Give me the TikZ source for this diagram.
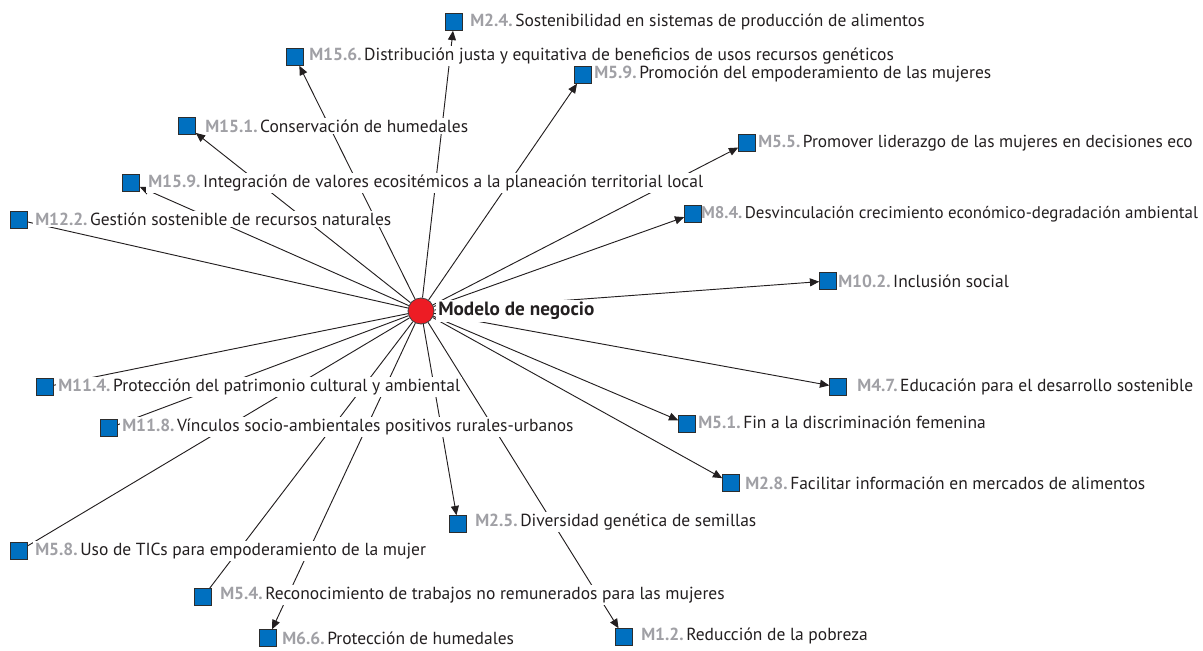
\documentclass[tikz,border=0pt]{standalone}
\usepackage{fontspec}
\setmainfont{PT Sans}
\usetikzlibrary{arrows.meta,backgrounds}
\definecolor{sqblue}{RGB}{0,112,192}
\definecolor{sqborder}{RGB}{45,45,45}
\definecolor{codegray}{RGB}{160,160,165}
\definecolor{txt}{RGB}{35,31,32}
\definecolor{hubred}{RGB}{237,28,36}
\newcommand{\lab}[2]{\textcolor{codegray}{\bfseries #1}\hspace{0.15em}#2}
\begin{document}
\begin{tikzpicture}[x=0.75pt,y=-0.75pt,
  sq/.style={draw=sqborder, line width=0.6pt, fill=sqblue, minimum size=12.5pt, inner sep=0pt},
  hub/.style={circle, draw=black!75, fill=hubred, minimum size=19.5pt, inner sep=0pt, line width=0.6pt},
  lbl/.style={fill=white, inner sep=1.5pt, text=txt, font=\fontsize{13.1}{15}\selectfont, anchor=west},
  edge/.style={draw=txt, line width=0.7pt},
  arr/.style={edge, -{Triangle[length=7pt,width=6pt]}}]
\useasboundingbox (0,0) rectangle (1203,650);
% hub
\node[hub] (hub) at (421,311) {};
\node[lbl, font=\fontsize{14.4}{16}\selectfont\bfseries] (hubl) at (436,311) {Modelo de negocio};
% labels
\node[lbl] (l24) at (468,22) {\lab{M2.4.}{Sostenibilidad en sistemas de producción de alimentos}};
\node[lbl] (l156) at (307,56) {\lab{M15.6.}{Distribución justa y equitativa de beneficios de usos recursos genéticos}};
\node[lbl] (l59) at (592,74) {\lab{M5.9.}{Promoción del empoderamiento de las mujeres}};
\node[lbl] (l151) at (203,126) {\lab{M15.1.}{Conservación de humedales}};
\node[lbl, font=\fontsize{13.0}{15}\selectfont] (l55) at (756,143) {\lab{M5.5.}{Promover liderazgo de las mujeres en decisiones eco}};
\node[lbl] (l159) at (146,183) {\lab{M15.9.}{Integración de valores ecositémicos a la planeación territorial local}};
\node[lbl] (l122) at (33,219) {\lab{M12.2.}{Gestión sostenible de recursos naturales}};
\node[lbl, font=\fontsize{12.7}{15}\selectfont] (l84) at (699,214) {\lab{M8.4.}{Desvinculación crecimiento económico-degradación ambiental}};
\node[lbl] (l102) at (836,281) {\lab{M10.2.}{Inclusión social}};
\node[lbl] (l114) at (56,387) {\lab{M11.4.}{Protección del patrimonio cultural y ambiental}};
\node[lbl] (l47) at (855,387) {\lab{M4.7.}{Educación para el desarrollo sostenible}};
\node[lbl] (l51) at (696,422) {\lab{M5.1.}{Fin a la discriminación femenina}};
\node[lbl] (l118) at (120,427) {\lab{M11.8.}{Vínculos socio-ambientales positivos rurales-urbanos}};
\node[lbl] (l28) at (743,483) {\lab{M2.8.}{Facilitar información en mercados de alimentos}};
\node[lbl] (l25) at (473,522) {\lab{M2.5.}{Diversidad genética de semillas}};
\node[lbl] (l58) at (33,551) {\lab{M5.8.}{Uso de TICs para empoderamiento de la mujer}};
\node[lbl] (l54) at (218,595) {\lab{M5.4.}{Reconocimiento de trabajos no remunerados para las mujeres}};
\node[lbl] (l66) at (280,638) {\lab{M6.6.}{Protección de humedales}};
\node[lbl] (l12) at (639,636) {\lab{M1.2.}{Reducción de la pobreza}};
% squares
\node[sq] (m24) at (454,22) {};
\node[sq] (m156) at (295,57) {};
\node[sq] (m59) at (583,75) {};
\node[sq] (m151) at (187,126) {};
\node[sq] (m55) at (747,143) {};
\node[sq] (m159) at (131,183) {};
\node[sq] (m122) at (19,220) {};
\node[sq] (m84) at (693,214) {};
\node[sq] (m102) at (828,281) {};
\node[sq] (m114) at (45,387) {};
\node[sq] (m47) at (838,387) {};
\node[sq] (m51) at (687,424) {};
\node[sq] (m118) at (109,428) {};
\node[sq] (m28) at (731,483) {};
\node[sq] (m25) at (458,524) {};
\node[sq] (m58) at (19,551) {};
\node[sq] (m54) at (203,597) {};
\node[sq] (m66) at (268,638) {};
\node[sq] (m12) at (624,637) {};
% edges
\begin{pgfonlayer}{background}
\foreach \t in {m24,m156,m59,m151,m55,m159,m84,m102,m47,m51,m28,m25,m66,m12}
  \draw[arr] (hub) -- (\t);
\foreach \t in {m122,m114,m118,m58,m54}
  \draw[edge] (hub) -- (\t);
\end{pgfonlayer}
\end{tikzpicture}
\end{document}
